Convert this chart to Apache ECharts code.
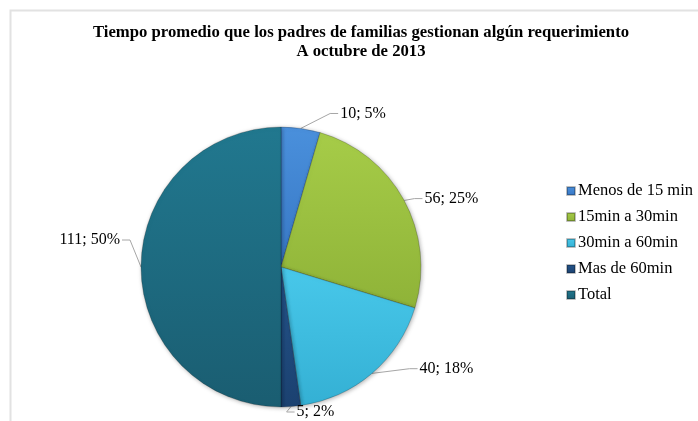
<!DOCTYPE html>
<html lang="es">
<head>
    <meta charset="UTF-8">
    <title>Tiempo promedio</title>
    <script src="https://cdn.jsdelivr.net/npm/echarts@6/dist/echarts.min.js"></script>
    <style>
        html, body { margin: 0; padding: 0; background: #fff; }
        #chart { width: 698px; height: 421px; }
    </style>
</head>
<body>
<div id="chart"></div>
<script>
    // datos del grafico
    var categorias = ['Menos de 15 min', '15min a 30min', '30min a 60min', 'Mas de 60min', 'Total'];
    var valores = [10, 56, 40, 5, 111];

    // colores (claro arriba, oscuro abajo)
    var coloresClaros = ['#4a90dc', '#a6cc48', '#48c8ea', '#24548a', '#21788f'];
    var coloresOscuros = ['#3777c4', '#8fb338', '#34b0d4', '#1b4170', '#1a5d71'];

    // desplazamiento de las etiquetas respecto a la posicion automatica
    var ajusteEtiquetas = [[18, -5], [-6, 4], [22, -8], [-15, 0], [9, -27]];

    var chart = echarts.init(document.getElementById('chart'));

    var datos = [];
    for (var i = 0; i < categorias.length; i++) {
        datos.push({
            name: categorias[i],
            value: valores[i],
            itemStyle: {
                color: {
                    type: 'linear', x: 0, y: 0, x2: 0, y2: 1,
                    colorStops: [
                        { offset: 0, color: coloresClaros[i] },
                        { offset: 1, color: coloresOscuros[i] }
                    ]
                }
            }
        });
    }

    var option = {
        backgroundColor: '#fff',
        animation: false,
        color: coloresClaros,
        title: {
            text: 'Tiempo promedio que los padres de familias gestionan algún requerimiento\nA octubre de 2013',
            left: 356,
            top: 18,
            textAlign: 'center',
            textStyle: {
                fontFamily: 'Liberation Serif',
                fontSize: 16.7,
                fontWeight: 'bold',
                color: '#000',
                lineHeight: 19
            }
        },
        legend: {
            orient: 'vertical',
            left: 561,
            top: 177,
            itemWidth: 8,
            itemHeight: 8,
            itemGap: 8,
            icon: 'rect',
            data: categorias,
            textStyle: {
                fontFamily: 'Liberation Serif',
                fontSize: 16.5,
                lineHeight: 18,
                color: '#000',
                padding: [0, 0, 0, -2]
            }
        },
        graphic: [{
            type: 'polyline',
            shape: { points: [[10.5, 421], [10.5, 10.5], [698, 10.5]] },
            style: { stroke: '#e2e2e2', lineWidth: 2, fill: null }
        }],
        series: [{
            type: 'pie',
            center: [281, 267],
            radius: 140,
            startAngle: 90,
            clockwise: true,
            percentPrecision: 0,
            data: datos,
            itemStyle: {
                borderColor: 'rgba(0,0,0,0.25)',
                borderWidth: 0.8,
                shadowColor: 'rgba(0,0,0,0.3)',
                shadowBlur: 4,
                shadowOffsetX: 1,
                shadowOffsetY: 1
            },
            label: {
                formatter: '{c}; {d}%',
                fontFamily: 'Liberation Serif',
                fontSize: 16,
                color: '#000',
                distanceToLabelLine: 2
            },
            labelLine: {
                length: 10,
                length2: 18,
                lineStyle: { color: '#a6a6a6', width: 1 }
            },
            labelLayout: function (params) {
                var a = ajusteEtiquetas[params.dataIndex];
                var r = params.labelRect;
                var x = r.x + a[0];
                var y = r.y + a[1];
                var cy = y + r.height / 2;
                var inicio = params.labelLinePoints ? params.labelLinePoints[0] : null;
                var res = { dx: a[0], dy: a[1] };
                if (inicio) {
                    var izquierda = (r.x + r.width / 2) < inicio[0];
                    var fin = izquierda ? [x + r.width + 2, cy] : [x - 2, cy];
                    var codo = izquierda ? [fin[0] + 8, cy] : [fin[0] - 8, cy];
                    res.labelLinePoints = [inicio, codo, fin];
                }
                return res;
            },
            emphasis: { disabled: true }
        }]
    };

    chart.setOption(option);
</script>
</body>
</html>
